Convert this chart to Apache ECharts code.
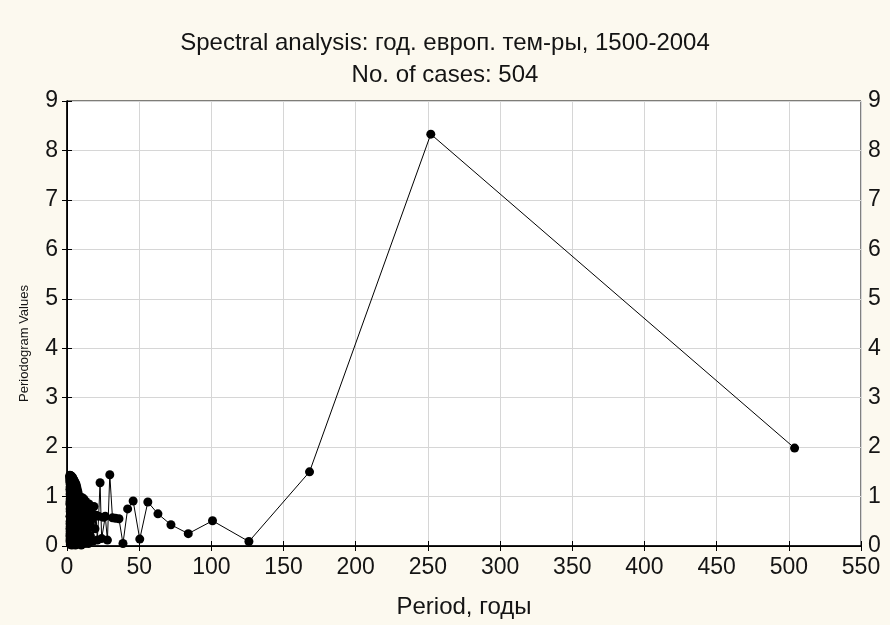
<!DOCTYPE html>
<html>
<head>
<meta charset="utf-8">
<script src="https://cdn.jsdelivr.net/npm/echarts@6/dist/echarts.min.js"></script>
<style>
html,body{margin:0;padding:0;background:#fcf9ef;}
#chart{width:890px;height:625px;}
</style>
</head>
<body>
<div id="chart"></div>
<script>
// Number of cases (series length); harmonic k has period CASES / k
const CASES = 504;

// Periodogram values for harmonics k = 1 .. 252
const periodogramValues = [
  // k = 1..24
  1.98, 8.33, 1.50, 0.09, 0.51, 0.25, 0.43, 0.65, 0.89, 0.14, 0.91, 0.75,
  0.05, 0.55, 0.56, 0.57, 1.44, 0.12, 0.60, 0.58, 0.15, 1.28, 0.60, 0.12,
  // k = 25..36
  0.62, 0.35, 0.80, 0.10, 0.55, 0.70, 0.20, 0.45, 0.85, 0.05, 0.60, 0.30,
  // k = 37..63
  0.75, 0.15, 0.90, 0.40, 0.05, 0.65, 0.95, 0.20, 0.50, 0.80,
  0.10, 0.35, 0.98, 0.60, 0.02, 0.45, 0.85, 0.25, 0.70, 0.10,
  0.92, 0.55, 0.30, 0.05, 0.80, 1.00, 0.40,
  // k = 64..100
  1.05, 0.20, 0.60, 1.10, 0.35, 0.08, 0.90, 1.15, 0.50, 0.15,
  0.75, 1.20, 0.30, 0.65, 1.05, 0.10, 0.45, 1.25, 0.85, 0.20,
  0.55, 1.10, 0.02, 0.70, 1.28, 0.40, 0.90, 0.15, 1.20, 0.60,
  0.30, 1.00, 1.30, 0.05, 0.50, 0.80, 1.22,
  // k = 101..252
  0.35, 1.30, 0.70, 0.10, 1.05, 1.33, 0.45, 0.20, 0.90, 1.25, 0.60, 0.03, 1.10, 1.35, 0.30, 0.75,
  1.20, 0.15, 0.55, 1.36, 0.85, 0.05, 0.40, 1.15, 1.30, 0.25, 0.65, 1.00, 0.10, 1.38, 0.50, 0.80,
  1.25, 0.20, 0.95, 1.37, 0.35, 0.60, 1.10, 0.08, 1.32, 0.70, 0.45, 1.20, 0.15, 1.39, 0.90, 0.30,
  0.55, 1.35, 1.05, 0.02, 0.75, 1.40, 0.40, 0.20, 1.15, 0.85, 1.30, 0.10, 0.60, 1.38, 0.95, 0.25,
  1.20, 0.50, 0.05, 1.40, 0.80, 0.35, 1.10, 1.36, 0.15, 0.65, 1.25, 0.45, 0.90, 1.41, 0.20, 0.70,
  1.30, 0.08, 1.05, 0.55, 1.39, 0.30, 0.85, 1.20, 0.12, 1.42, 0.60, 0.95, 0.40, 1.33, 0.18, 1.10,
  0.75, 1.40, 0.25, 0.50, 1.28, 0.90, 0.05, 1.41, 0.65, 1.15, 0.35, 1.37, 0.10, 0.80, 1.30, 0.45,
  1.42, 0.20, 1.00, 0.60, 1.38, 0.03, 1.25, 0.85, 0.40, 1.40, 0.15, 1.10, 0.70, 1.35, 0.30, 0.95,
  1.41, 0.50, 1.20, 0.08, 1.38, 0.75, 1.30, 0.25, 1.05, 1.42, 0.45, 0.90, 1.36, 0.12, 1.28, 0.60,
  1.40, 0.35, 1.15, 1.43, 0.20, 1.33, 0.85, 1.40
];

const titleText = 'Spectral analysis: год. европ. тем-ры, 1500-2004';
const subtitleText = 'No. of cases: 504';
const xAxisName = 'Period, годы';
const yAxisName = 'Periodogram Values';

const xMin = 0, xMax = 550, xStep = 50;
const yMin = 0, yMax = 9, yStep = 1;

const points = periodogramValues.map((v, i) => [CASES / (i + 1), v]);

const FONT = '"Liberation Sans", Arial, sans-serif';
const TXT = '#141414';

const chart = echarts.init(document.getElementById('chart'));
chart.setOption({
  backgroundColor: '#fcf9ef',
  animation: false,
  title: {
    text: titleText + '\n' + subtitleText,
    left: 'center',
    top: 22,
    textStyle: { fontFamily: FONT, fontSize: 24, fontWeight: 'normal', color: TXT, lineHeight: 32 }
  },
  grid: { left: 67, right: 29, top: 101, bottom: 79, show: true, backgroundColor: '#ffffff', borderColor: '#000', borderWidth: 1 },
  xAxis: [{
    type: 'value', min: xMin, max: xMax, interval: xStep,
    name: xAxisName, nameLocation: 'middle', nameGap: 49,
    nameTextStyle: { fontFamily: FONT, fontSize: 24, color: TXT },
    axisLine: { show: true, onZero: false, lineStyle: { color: '#000', width: 1.5 } },
    axisTick: { show: true, inside: true, length: 5, lineStyle: { color: '#000' } },
    axisLabel: { fontFamily: FONT, fontSize: 23, color: TXT, margin: 10 },
    splitLine: { show: true, lineStyle: { color: '#d6d6d6', width: 1 } }
  }, {
    type: 'value', position: 'top', min: xMin, max: xMax, interval: xStep,
    axisLine: { show: true, lineStyle: { color: '#000', width: 1 } },
    axisTick: { show: true, inside: true, length: 5, lineStyle: { color: '#000' } },
    axisLabel: { show: false },
    splitLine: { show: false }
  }],
  yAxis: [{
    type: 'value', min: yMin, max: yMax, interval: yStep,
    name: yAxisName, nameLocation: 'middle', nameGap: 36, nameRotate: 90,
    nameTextStyle: { fontFamily: FONT, fontSize: 13, color: TXT, padding: [0, 40, 0, 0] },
    axisLine: { show: true, lineStyle: { color: '#000', width: 1.5 } },
    axisTick: { show: true, inside: true, length: 5, lineStyle: { color: '#000' } },
    axisLabel: { fontFamily: FONT, fontSize: 23, color: TXT, margin: 9 },
    splitLine: { show: true, lineStyle: { color: '#d6d6d6', width: 1 } }
  }, {
    type: 'value', position: 'right', min: yMin, max: yMax, interval: yStep,
    axisLine: { show: true, lineStyle: { color: '#000', width: 1 } },
    axisTick: { show: true, inside: true, length: 5, lineStyle: { color: '#000' } },
    axisLabel: { fontFamily: FONT, fontSize: 23, color: TXT, margin: 7 },
    splitLine: { show: false }
  }],
  series: [{
    type: 'line',
    data: points,
    xAxisIndex: 0, yAxisIndex: 0,
    symbol: 'circle', symbolSize: 9,
    lineStyle: { color: '#000', width: 1 },
    itemStyle: { color: '#000' },
    clip: false
  }]
});
</script>
</body>
</html>
